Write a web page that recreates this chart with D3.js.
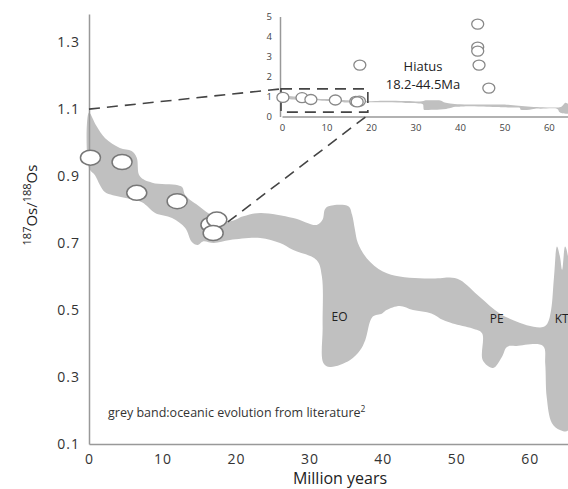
<!DOCTYPE html>
<html><head><meta charset="utf-8">
<script src="https://cdn.jsdelivr.net/npm/d3@7"></script>
<style>body{margin:0;background:#fff}svg{display:block;font-family:"Open Sans",sans-serif}</style>
</head><body><svg id="c" width="568" height="489"></svg>
<script>
// ---- data ----
const xTicks=[0,10,20,30,40,50,60];
const yTicks=[0.1,0.3,0.5,0.7,0.9,1.1,1.3];
const insetXTicks=[0,10,20,30,40,50,60];
const insetYTicks=[0,1,2,3,4,5];
const measuredAge=[0.2,4.5,6.5,12,16.6,17.4,16.9];
const measuredOs=[0.955,0.942,0.85,0.825,0.755,0.77,0.73];
const insetExtraAge=[17.5,44,44,44,44.3,46.5];
const insetExtraOs=[2.57,4.62,3.47,3.27,2.57,1.42];
const bandUpper=[[0,1.09],[1,1.05],[2.2,1.013],[4.2,0.984],[5.8,0.975],[6.5,0.955],[6.9,0.90],[8.6,0.88],[12.1,0.873],[12.7,0.867],[13.1,0.843],[14.8,0.813],[16.2,0.79],[17.5,0.775],[19.2,0.765],[21,0.78],[23.3,0.79],[27.8,0.775],[31,0.754],[31.8,0.77],[32.1,0.80],[32.6,0.81],[35.3,0.81],[35.8,0.785],[36.2,0.74],[36.6,0.70],[37.8,0.655],[40,0.615],[42.3,0.60],[45,0.595],[47.8,0.595],[49.1,0.597],[50.5,0.59],[53.2,0.539],[55.9,0.49],[58.6,0.462],[60.5,0.45],[61.8,0.449],[62.4,0.46],[62.9,0.50],[63.3,0.60],[63.7,0.69],[64.1,0.66],[64.4,0.62],[64.8,0.69],[65.2,0.66]];
const bandLower=[[0,0.924],[0.8,0.903],[1.5,0.873],[2.2,0.852],[4.5,0.837],[7.2,0.822],[9,0.79],[11.3,0.775],[13.1,0.745],[14,0.703],[14.8,0.694],[15.5,0.705],[17,0.70],[19.2,0.709],[23.3,0.715],[26,0.70],[27.8,0.679],[31,0.649],[31.7,0.60],[31.8,0.45],[31.9,0.342],[32.8,0.33],[35.5,0.35],[36.9,0.38],[37.6,0.41],[38.6,0.48],[39.9,0.49],[40.5,0.50],[42.3,0.512],[44.1,0.50],[46.6,0.49],[48.2,0.47],[49.5,0.46],[52.2,0.445],[53.5,0.431],[53.6,0.35],[55,0.327],[56.2,0.36],[56.9,0.39],[58.2,0.393],[61.8,0.393],[62.1,0.34],[62.3,0.24],[63,0.163],[64.1,0.142],[65.2,0.14]];
const eventLabels=["EO","PE","KT"];
const eventAges=[34.1,55.5,63.4];
const eventOs=[0.476,0.47,0.47];
const hiatusLines=["Hiatus","18.2-44.5Ma"];
const zoomBoxAge=[0,19.3];
const zoomBoxOs=[0.22,1.38];

// ---- scales ----
const svg=d3.select("#c");
const x=d3.scaleLinear().domain([0,65.2]).range([89,568]);
const y=d3.scaleLinear().domain([0.1,1.384]).range([444,14]);
const ix=d3.scaleLinear().domain([0,65.2]).range([282,572]);
const iy=d3.scaleLinear().domain([0,5]).range([116.5,16.5]);

const bandPoly=bandUpper.concat(bandLower.slice().reverse());
const bandColor="#c0c0c0";

// main band
svg.append("path").datum(bandPoly)
  .attr("d",d3.line().x(d=>x(d[0])).y(d=>y(d[1])).curve(d3.curveCatmullRomClosed.alpha(0.5)))
  .attr("fill",bandColor);

// axes
const gx=svg.append("g").attr("transform",`translate(0,${y(0.1)})`)
  .call(d3.axisBottom(x).tickValues(xTicks).tickSize(0).tickSizeOuter(0).tickPadding(10));
const gy=svg.append("g").attr("transform",`translate(${x(0)},0)`)
  .call(d3.axisLeft(y).tickValues(yTicks).tickSize(0).tickSizeOuter(0).tickPadding(9).tickFormat(d3.format(".1f")));
[gx,gy].forEach(g=>{
  g.select(".domain").attr("stroke","#999").attr("stroke-width",1.5);
  g.selectAll("text").attr("font-family","Open Sans").attr("font-size",14).attr("fill","#333").attr("letter-spacing",1);
});

// axis titles
svg.append("text").attr("x",340).attr("y",484).attr("text-anchor","middle")
  .attr("font-size",16).attr("fill","#222").text("Million years");
const yt=svg.append("text").attr("transform","translate(37,205) rotate(-90)").attr("text-anchor","middle")
  .attr("font-size",15).attr("fill","#222");
yt.append("tspan").attr("font-size",11).attr("dy",-6).text("187");
yt.append("tspan").attr("dy",6).text("Os/");
yt.append("tspan").attr("font-size",11).attr("dy",-6).text("188");
yt.append("tspan").attr("dy",6).text("Os");

// legend note
const note=svg.append("text").attr("x",108).attr("y",417).attr("font-size",12.5).attr("fill","#333");
note.append("tspan").text("grey band:oceanic evolution from literature");
note.append("tspan").attr("font-size",8.5).attr("dy",-5).text("2");

// event labels
svg.selectAll(".ev").data(eventLabels).enter().append("text")
  .attr("x",(d,i)=>x(eventAges[i])).attr("y",(d,i)=>y(eventOs[i]))
  .attr("text-anchor",(d,i)=>i===2?"start":"middle").attr("dominant-baseline","middle")
  .attr("font-size",12).attr("fill","#222").text(d=>d);

// ---- inset ----
svg.append("path").datum(bandPoly)
  .attr("d",d3.line().x(d=>ix(d[0])).y(d=>iy(d[1])).curve(d3.curveCatmullRomClosed.alpha(0.5)))
  .attr("fill",bandColor);
const igx=svg.append("g").attr("transform",`translate(0,${iy(0)})`)
  .call(d3.axisBottom(ix).tickValues(insetXTicks).tickSize(0).tickSizeOuter(0).tickPadding(8));
const igy=svg.append("g").attr("transform",`translate(${ix(0)-2},0)`)
  .call(d3.axisLeft(iy).tickValues(insetYTicks).tickSize(0).tickSizeOuter(0).tickPadding(8).tickFormat(d3.format("d")));
[igx,igy].forEach(g=>{
  g.select(".domain").attr("stroke","#999").attr("stroke-width",1.5);
  g.selectAll("text").attr("font-family","Open Sans").attr("font-size",9.5).attr("fill","#444");
});

// dashed zoom box and connectors
const dash="11,7";
svg.append("rect").attr("x",ix(zoomBoxAge[0])-1).attr("y",iy(zoomBoxOs[1]))
  .attr("width",ix(zoomBoxAge[1])-ix(zoomBoxAge[0])+1).attr("height",iy(zoomBoxOs[0])-iy(zoomBoxOs[1]))
  .attr("fill","none").attr("stroke","#444").attr("stroke-width",1.6).attr("stroke-dasharray",dash);
svg.append("line").attr("x1",x(0)).attr("y1",y(1.1)).attr("x2",ix(zoomBoxAge[0])-1).attr("y2",iy(zoomBoxOs[1]))
  .attr("stroke","#444").attr("stroke-width",1.6).attr("stroke-dasharray",dash);
svg.append("line").attr("x1",x(18.9)).attr("y1",y(0.763)).attr("x2",ix(18.9)).attr("y2",iy(0))
  .attr("stroke","#444").attr("stroke-width",1.6).attr("stroke-dasharray",dash);

// inset points
const insetAge=measuredAge.concat(insetExtraAge), insetOs=measuredOs.concat(insetExtraOs);
svg.selectAll(".ip").data(insetAge).enter().append("ellipse")
  .attr("cx",(d,i)=>ix(d)).attr("cy",(d,i)=>iy(insetOs[i])).attr("rx",6).attr("ry",5)
  .attr("fill","#fff").attr("stroke","#888").attr("stroke-width",1.3);

// hiatus text
svg.selectAll(".hi").data(hiatusLines).enter().append("text")
  .attr("x",423).attr("y",(d,i)=>71+i*18).attr("text-anchor","middle")
  .attr("font-size",13).attr("fill","#222").text(d=>d);

// main points
svg.selectAll(".mp").data(measuredAge).enter().append("ellipse")
  .attr("cx",d=>x(d)).attr("cy",(d,i)=>y(measuredOs[i])).attr("rx",10).attr("ry",7.5)
  .attr("fill","#fff").attr("stroke","#777").attr("stroke-width",1.5);
</script></body></html>
